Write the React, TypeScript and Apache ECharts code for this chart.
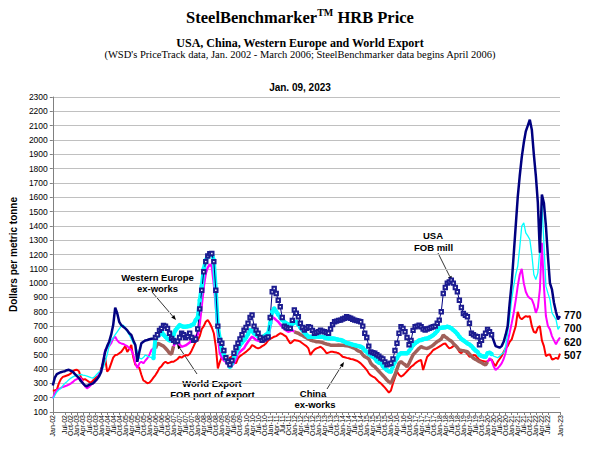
import React, { useEffect, useRef } from "react";
import * as echarts from "echarts";

// ---- axis / tick data ----
const monthLabels = ["Jan", "Feb", "Mar", "Apr", "May", "Jun", "Jul", "Aug", "Sep", "Oct", "Nov", "Dec"];
const firstYear = 2002;
const lastMonthIndex = 252; // Jan 2023
const yMin = 100;
const yMax = 2300;
const yStep = 100;

// ---- series values (monthly, Jan 2002 .. Jan 2023, US$/tonne) ----
const usa = [
  285, 340, 365, 372, 378, 382, 385, 392, 395, 388, 380, 365,
  350, 337, 315, 300, 285, 280, 290, 295, 300, 315, 330, 350,
  380, 451, 520, 560, 591, 640, 707, 828, 790, 730, 707, 695,
  684, 670, 650, 638, 600, 568, 451, 521, 580, 591, 600, 603,
  608, 612, 614, 620, 640, 670, 684, 705, 700, 684, 650, 614,
  600, 591, 595, 620, 650, 640, 620, 630, 650, 620, 600, 610,
  680, 820, 950, 1080, 1150, 1190, 1205, 1207, 1150, 950, 700, 600,
  580, 530, 480, 450, 430, 460, 510, 550, 580, 610, 640, 672,
  690, 720, 760, 777, 700, 672, 650, 620, 600, 610, 618, 625,
  760, 940, 963, 928, 880, 835, 760, 700, 690, 684, 684, 740,
  812, 790, 765, 720, 690, 672, 685, 695, 690, 670, 650, 655,
  660, 672, 665, 660, 655, 650, 680, 710, 730, 735, 740, 742,
  750, 755, 765, 760, 755, 748, 742, 738, 735, 730, 700, 650,
  620, 560, 520, 515, 510, 500, 490, 477, 470, 450, 430, 435,
  440, 470, 530, 580, 650, 695, 684, 660, 620, 570, 600, 670,
  695, 700, 707, 695, 680, 672, 680, 684, 690, 695, 700, 720,
  742, 800, 928, 970, 1000, 1009, 1021, 1000, 970, 940, 880, 830,
  788, 775, 765, 720, 650, 640, 630, 626, 570, 600, 630, 650,
  677, 660, 640, 600, 560, 555, 549, 560, 590, 640, 700, 860,
  1000, 1200, 1400, 1600, 1750, 1880, 1980, 2060, 2100, 2142, 2072, 1900,
  1750, 1560, 1212, 1619, 1560, 1400, 1188, 1000, 956, 863, 800, 747,
  770,
];

const europe = [
  195, 215, 240, 255, 265, 285, 300, 312, 325, 337, 345, 352,
  358, 360, 362, 358, 355, 350, 345, 340, 337, 350, 365, 380,
  395, 407, 450, 500, 560, 600, 617, 640, 660, 680, 700, 707,
  690, 661, 640, 610, 580, 568, 520, 477, 470, 480, 498, 490,
  485, 480, 477, 617, 630, 640, 661, 640, 625, 610, 600, 603,
  640, 673, 690, 707, 700, 695, 696, 698, 700, 707, 715, 742,
  760, 880, 980, 1100, 1160, 1190, 1205, 1207, 1160, 950, 700, 610,
  533, 500, 470, 450, 416, 440, 480, 510, 540, 567, 585, 603,
  620, 645, 672, 665, 650, 640, 630, 614, 620, 630, 640, 650,
  720, 800, 823, 800, 780, 760, 742, 730, 719, 712, 707, 715,
  725, 730, 710, 690, 672, 655, 640, 626, 626, 625, 626, 628,
  626, 626, 625, 620, 616, 614, 614, 614, 612, 608, 605, 603,
  598, 590, 582, 579, 575, 570, 567, 563, 560, 556, 548, 530,
  520, 505, 495, 486, 475, 455, 445, 440, 420, 405, 393, 385,
  382, 420, 450, 475, 500, 510, 510, 510, 510, 525, 545, 567,
  580, 590, 600, 603, 608, 612, 614, 620, 628, 637, 650, 665,
  684, 688, 690, 692, 695, 692, 685, 672, 660, 645, 626, 610,
  600, 590, 579, 572, 560, 544, 530, 520, 498, 492, 488, 486,
  510, 514, 505, 490, 485, 479, 490, 505, 514, 560, 653, 760,
  886, 980, 1060, 1118, 1250, 1398, 1421, 1351, 1330, 1305, 1200, 1060,
  1025, 1072, 1235, 1560, 1281, 979, 930, 886, 793, 770, 747, 677,
  700,
];

const worldExport = [
  195, 230, 253, 262, 268, 275, 280, 285, 291, 300, 310, 323,
  330, 337, 335, 300, 280, 265, 275, 290, 300, 312, 330, 370,
  382, 450, 533, 550, 560, 580, 614, 625, 600, 585, 579, 575,
  567, 560, 545, 533, 500, 440, 407, 440, 451, 440, 460, 475,
  500, 533, 545, 545, 579, 575, 567, 560, 545, 530, 510, 505,
  560, 590, 600, 570, 556, 560, 565, 575, 585, 600, 615, 630,
  640, 720, 850, 980, 1070, 1110, 1130, 1120, 1000, 850, 640, 510,
  480, 460, 451, 430, 416, 425, 440, 470, 510, 520, 533, 545,
  570, 591, 610, 626, 615, 603, 598, 595, 591, 598, 605, 614,
  690, 765, 755, 742, 730, 712, 695, 680, 670, 661, 665, 672,
  660, 655, 650, 640, 635, 626, 618, 610, 603, 598, 595, 591,
  591, 588, 585, 579, 575, 572, 567, 567, 567, 567, 568, 567,
  567, 565, 562, 560, 556, 550, 545, 533, 525, 520, 500, 486,
  480, 470, 440, 425, 416, 400, 385, 370, 355, 340, 323, 310,
  300, 330, 360, 400, 440, 451, 440, 430, 416, 440, 470, 500,
  515, 530, 545, 556, 550, 546, 544, 550, 558, 567, 580, 592,
  600, 610, 637, 625, 615, 603, 595, 579, 565, 550, 533, 530,
  527, 524, 521, 505, 490, 475, 468, 460, 451, 445, 435, 428,
  450, 475, 460, 420, 393, 405, 420, 440, 470, 514, 590, 653,
  720, 793, 880, 979, 1060, 1100, 1000, 940, 909, 895, 886, 850,
  793, 830, 956, 1281, 979, 770, 700, 677, 630, 600, 572, 600,
  620,
];

const china = [
  250, 250, 255, 300, 330, 345, 350, 355, 360, 370, 385, 393,
  395, 385, 340, 325, 330, 320, 310, 305, 320, 335, 345, 358,
  400, 440, 477, 382, 400, 440, 480, 498, 500, 510, 520, 540,
  560, 520, 540, 568, 480, 430, 420, 407, 360, 320, 312, 300,
  305, 320, 340, 358, 380, 407, 420, 440, 451, 440, 445, 451,
  451, 460, 470, 486, 480, 490, 498, 495, 505, 530, 560, 591,
  600, 630, 680, 700, 730, 742, 720, 690, 650, 556, 405, 450,
  486, 470, 451, 460, 480, 486, 460, 440, 475, 490, 500, 510,
  520, 533, 545, 567, 560, 550, 544, 550, 560, 567, 580, 600,
  610, 618, 626, 630, 640, 650, 645, 635, 626, 600, 579, 590,
  603, 600, 597, 591, 580, 570, 560, 544, 498, 520, 535, 544,
  550, 556, 545, 530, 510, 515, 520, 521, 518, 515, 510, 500,
  486, 482, 478, 475, 470, 468, 463, 458, 450, 440, 425, 410,
  393, 370, 355, 347, 340, 325, 310, 300, 285, 270, 253, 235,
  250, 300, 340, 382, 360, 347, 355, 370, 385, 400, 416, 425,
  440, 450, 458, 463, 393, 440, 486, 500, 515, 533, 540, 548,
  556, 565, 575, 579, 560, 544, 550, 560, 567, 545, 520, 510,
  533, 520, 505, 486, 490, 498, 495, 480, 463, 458, 455, 451,
  455, 462, 467, 440, 421, 450, 470, 490, 520, 545, 560, 590,
  607, 653, 700, 800, 760, 747, 760, 770, 765, 770, 700, 660,
  653, 690, 700, 600, 560, 490, 500, 502, 467, 470, 479, 470,
  507,
];

// Segment boundaries (month index)
const sbmStart = 51; // April 2006: SteelBenchmarker data begins
const lateStart = 218; // March 2020
const wxMagentaMidStart = 60;
const wxBrownLateStart = 120;
const wxMagentaLateStart = 216;

const C_NAVY = "#000080";
const C_CYAN = "#00FFFF";
const C_MAGENTA = "#FF00FF";
const C_BROWN = "#A0605A";
const C_RED = "#FF0000";

const SANS = "'Liberation Sans', Arial, sans-serif";
const SERIF = "'Liberation Serif', 'Times New Roman', serif";

function seg(arr: number[], from: number, to: number): number[][] {
  const out: number[][] = [];
  for (let i = from; i <= to; i++) out.push([i, arr[i]]);
  return out;
}

function lineSeries(data: number[][], color: string, width: number, extra: any = {}) {
  return {
    type: "line",
    data,
    showSymbol: false,
    symbol: "none",
    lineStyle: { color, width },
    itemStyle: { color },
    silent: true,
    ...extra,
  };
}

function arrow(x1: number, y1: number, x2: number, y2: number): any[] {
  const dx = x2 - x1;
  const dy = y2 - y1;
  const len = Math.sqrt(dx * dx + dy * dy);
  const ux = dx / len;
  const uy = dy / len;
  const hl = 5;
  const hw = 2;
  const bx = x2 - ux * hl;
  const by = y2 - uy * hl;
  return [
    { type: "line", shape: { x1, y1, x2: bx, y2: by }, style: { stroke: "#000", lineWidth: 0.8 }, silent: true },
    {
      type: "polygon",
      shape: { points: [[x2, y2], [bx - uy * hw, by + ux * hw], [bx + uy * hw, by - ux * hw]] },
      style: { fill: "#000" },
      silent: true,
    },
  ];
}

function label(text: string, x: number, y: number, size = 9.5): any {
  return {
    type: "text",
    x,
    y,
    silent: true,
    style: {
      text,
      fill: "#000",
      font: `bold ${size}px ${SANS}`,
      align: "center",
      verticalAlign: "middle",
    },
  };
}

export default function App() {
  const ref = useRef<HTMLDivElement>(null);

  useEffect(() => {
    if (!ref.current) return;
    const chart = echarts.init(ref.current, undefined, { renderer: "svg" });

    const endLabel = (dy: number) => ({
      show: true,
      formatter: (p: any) => String(p.value[1]),
      color: "#000",
      fontFamily: SANS,
      fontWeight: "bold",
      fontSize: 10.5,
      lineHeight: 11,
      distance: 4,
      offset: [0, dy],
    });

    const series: any[] = [
      // China ex-works
      lineSeries(seg(china, 0, lastMonthIndex), C_RED, 2, { endLabel: endLabel(1) }),
      // World Export FOB port of export
      lineSeries(seg(worldExport, 0, sbmStart), C_MAGENTA, 2),
      lineSeries(seg(worldExport, sbmStart, wxMagentaMidStart), C_BROWN, 3.5),
      lineSeries(seg(worldExport, wxMagentaMidStart, wxBrownLateStart), C_MAGENTA, 2.5),
      lineSeries(seg(worldExport, wxBrownLateStart, wxMagentaLateStart), C_BROWN, 3.5),
      lineSeries(seg(worldExport, wxMagentaLateStart, lastMonthIndex), C_MAGENTA, 2, { endLabel: endLabel(4) }),
      // Western Europe ex-works
      lineSeries(seg(europe, 0, sbmStart - 1), C_CYAN, 1.3),
      lineSeries(seg(europe, sbmStart - 1, lateStart), C_CYAN, 4, {
        showSymbol: true,
        symbol: "circle",
        symbolSize: 4.5,
      }),
      lineSeries(seg(europe, lateStart, lastMonthIndex), C_CYAN, 1.3, { endLabel: endLabel(2) }),
      // USA FOB mill
      lineSeries(seg(usa, 0, sbmStart), C_NAVY, 2.5),
      lineSeries(seg(usa, sbmStart, lateStart), C_NAVY, 1, {
        showSymbol: true,
        symbol: "emptyRect",
        symbolSize: 3.4,
        itemStyle: { color: "#1c1c90", borderWidth: 0.8 },
      }),
      lineSeries(seg(usa, lateStart, lastMonthIndex), C_NAVY, 2.5, { endLabel: endLabel(-1) }),
    ];

    const graphic: any[] = [
      {
        type: "text",
        x: 300,
        y: 17,
        silent: true,
        style: {
          text: "{a|SteelBenchmarker}{b|TM}{a| HRB Price}",
          align: "center",
          verticalAlign: "middle",
          rich: {
            a: { fontFamily: SERIF, fontWeight: "bold", fontSize: 16.5, fill: "#000", lineHeight: 20 },
            b: { fontFamily: SERIF, fontWeight: "bold", fontSize: 10, fill: "#000", verticalAlign: "top", lineHeight: 20 },
          },
        },
      },
      {
        type: "text",
        x: 300,
        y: 43,
        silent: true,
        style: {
          text: "USA, China, Western Europe and World Export",
          font: `bold 12px ${SERIF}`,
          fill: "#000",
          align: "center",
          verticalAlign: "middle",
        },
      },
      {
        type: "text",
        x: 300,
        y: 54,
        silent: true,
        style: {
          text: "(WSD's PriceTrack data, Jan. 2002 - March 2006; SteelBenchmarker data begins April 2006)",
          font: `10.5px ${SERIF}`,
          fill: "#000",
          align: "center",
          verticalAlign: "middle",
        },
      },
      {
        type: "text",
        x: 300,
        y: 87,
        silent: true,
        style: {
          text: "Jan. 09, 2023",
          font: `bold 10px ${SANS}`,
          fill: "#000",
          align: "center",
          verticalAlign: "middle",
        },
      },
      label("Western Europe", 157.5, 277),
      label("ex-works", 157.5, 288),
      ...arrow(152, 292, 176, 320),
      label("World Export", 212, 383),
      label("FOB port of export", 212.5, 394),
      ...arrow(197, 374, 177, 344),
      label("China", 313, 393),
      label("ex-works", 315, 404),
      ...arrow(327, 389, 344, 362),
      label("USA", 433, 235),
      label("FOB mill", 433.5, 247),
      ...arrow(438, 253, 452, 281),
    ];

    chart.setOption({
      animation: false,
      backgroundColor: "#FFFFFF",
      textStyle: { fontFamily: SANS },
      grid: { left: 49, right: 40, top: 97, bottom: 43, containLabel: false },
      xAxis: {
        type: "value",
        min: 0,
        max: lastMonthIndex,
        interval: 3,
        axisLine: { show: true, onZero: false, lineStyle: { color: "#808080", width: 1 } },
        axisTick: { show: true, length: 3, lineStyle: { color: "#808080" } },
        splitLine: { show: false },
        axisLabel: {
          rotate: 90,
          fontSize: 7,
          color: "#000",
          fontFamily: SANS,
          margin: 3,
          showMinLabel: true,
          showMaxLabel: true,
          formatter: (v: number) => {
            const yy = (firstYear + Math.floor(v / 12)) % 100;
            return `${monthLabels[v % 12]}-${String(yy).padStart(2, "0")}`;
          },
        },
      },
      yAxis: {
        type: "value",
        min: yMin,
        max: yMax,
        interval: yStep,
        name: "Dollars per metric tonne",
        nameLocation: "middle",
        nameRotate: 90,
        nameGap: 29,
        nameTextStyle: { fontFamily: SANS, fontWeight: "bold", fontSize: 10, color: "#000" },
        axisLine: { show: true, lineStyle: { color: "#808080", width: 1 } },
        axisTick: { show: true, length: 3, lineStyle: { color: "#808080" } },
        splitLine: { show: true, lineStyle: { color: "#C0C0C0", width: 1 } },
        axisLabel: {
          fontSize: 8.5,
          color: "#000",
          fontFamily: SANS,
          margin: 5,
          formatter: (v: number) => String(v),
        },
      },
      series,
      graphic,
    });

    return () => chart.dispose();
  }, []);

  return (
    <div
      ref={ref}
      style={{ position: "absolute", left: 0, top: 0, width: 600, height: 455, background: "#fff" }}
    />
  );
}
